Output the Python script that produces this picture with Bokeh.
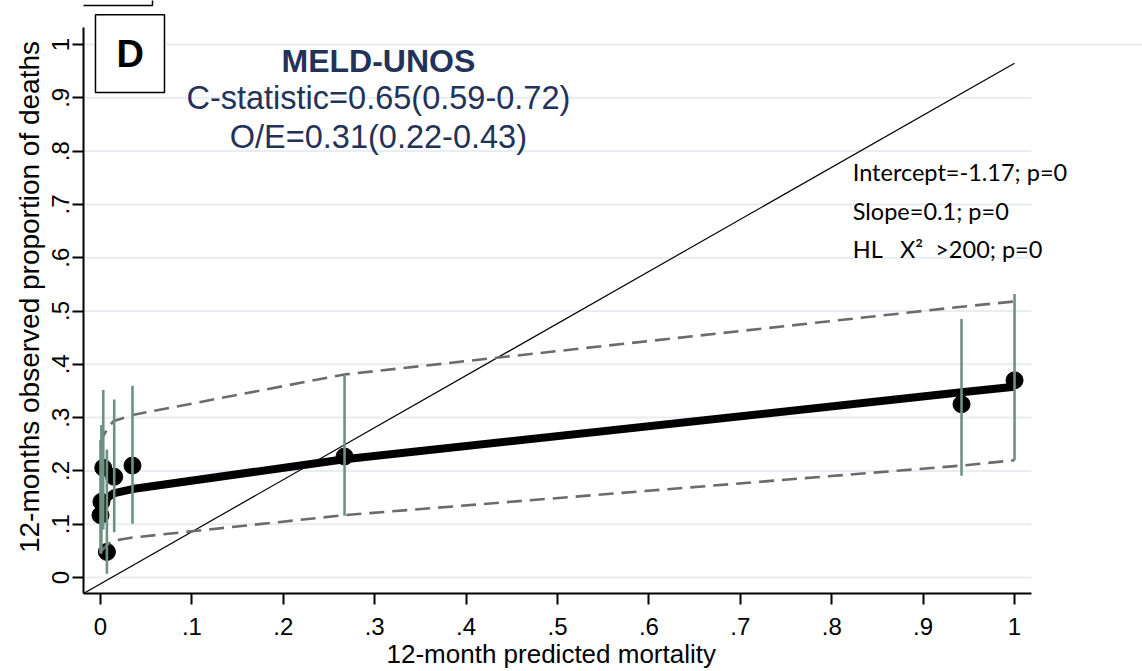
from bokeh.plotting import figure
from bokeh.models import Range1d, FixedTicker, Label, BoxAnnotation, Title
from bokeh.embed import file_html
from bokeh.resources import INLINE

# Risk groups: mean predicted 12-month mortality vs observed proportion of deaths
pred = [0.0, 0.001, 0.003, 0.007, 0.015, 0.035, 0.267, 0.942, 1.0]
obs = [0.117, 0.142, 0.206, 0.048, 0.189, 0.210, 0.227, 0.325, 0.370]
obs_lo = [0.045, 0.050, 0.090, 0.007, 0.085, 0.101, 0.116, 0.191, 0.220]
obs_hi = [0.258, 0.286, 0.352, 0.240, 0.334, 0.360, 0.378, 0.485, 0.532]

# Calibration fit with its confidence band
fit_x = [0.0, 0.001, 0.002, 0.008, 0.014, 0.035, 0.267, 0.942, 1.0]
fit_y = [0.125, 0.130, 0.135, 0.150, 0.158, 0.166, 0.222, 0.3475, 0.358]
fit_lo = [0.045, 0.048, 0.052, 0.062, 0.069, 0.075, 0.117, 0.210, 0.220]
fit_hi = [0.250, 0.257, 0.262, 0.281, 0.293, 0.305, 0.381, 0.508, 0.518]

# Reference line of perfect agreement
ref_x = [-0.0186, 1.0]
ref_y = [-0.030, 0.965]

ticks = [0.0, 0.1, 0.2, 0.3, 0.4, 0.5, 0.6, 0.7, 0.8, 0.9, 1.0]
tick_labels = ["0", ".1", ".2", ".3", ".4", ".5", ".6", ".7", ".8", ".9", "1"]

title_lines = ["MELD-UNOS", "C-statistic=0.65(0.59-0.72)", "O/E=0.31(0.22-0.43)"]
stat_lines = ["Intercept=-1.17; p=0", "Slope=0.1; p=0",
              "HL\u00a0\u00a0\u00a0X\u00b2\u00a0\u00a0>200; p=0"]

NAVY = "#233259"
GRID = "#e6eef1"
BAR = "#6e9182"
SANS = "Liberation Sans"

# plot region limits (axes are drawn only over these)
X_LO, X_HI = -0.0186, 1.0186
Y_LO, Y_HI = -0.030, 1.0325

p = figure(width=1142, height=671,
           x_range=Range1d(X_LO, 1.140), y_range=Range1d(Y_LO, 1.0826),
           output_backend="svg", toolbar_location=None,
           min_border_left=83, min_border_right=0,
           min_border_top=0, min_border_bottom=78)
p.outline_line_color = None
p.background_fill_color = "white"
p.border_fill_color = "white"
p.xgrid.grid_line_color = None
p.ygrid.grid_line_color = None

for ax in (p.xaxis[0], p.yaxis[0]):
    ax.ticker = FixedTicker(ticks=ticks)
    ax.major_label_overrides = dict(zip(ticks, tick_labels))
    ax.axis_line_width = 2
    ax.axis_line_color = "black"
    ax.major_tick_line_width = 2
    ax.major_tick_line_color = "black"
    ax.major_tick_out = 11
    ax.major_tick_in = 0
    ax.minor_tick_line_color = None
    ax.major_label_text_font = SANS
    ax.major_label_text_font_size = "24px"
    ax.major_label_text_color = "black"

p.xaxis.bounds = (X_LO, X_HI)
p.yaxis.bounds = (Y_LO, Y_HI)
p.xaxis.major_label_standoff = 13
p.yaxis.major_label_orientation = "vertical"
p.yaxis.major_label_standoff = 3
p.yaxis.axis_label = "12-months observed proportion of deaths"
p.yaxis.axis_label_standoff = 5
p.yaxis.axis_label_text_font = SANS
p.yaxis.axis_label_text_font_size = "28px"
p.yaxis.axis_label_text_font_style = "normal"
p.yaxis.axis_label_text_color = "black"

p.add_layout(Title(text="12-month predicted mortality", align="left", offset=303,
                   standoff=-2, text_font=SANS, text_font_size="26px",
                   text_font_style="normal", text_color="black"), "below")

# horizontal grid; the top rule runs across to the edge
grid_left = [X_LO] * len(ticks)
grid_right = [X_HI] * (len(ticks) - 1) + [1.140]
p.segment(x0=grid_left, y0=ticks, x1=grid_right, y1=ticks,
          line_color=GRID, line_width=2)

p.line(ref_x, ref_y, line_color="black", line_width=1.2)
p.scatter(pred, obs, size=17, fill_color="black", line_color="black")
p.line(fit_x, fit_y, line_color="black", line_width=8, line_join="round", line_cap="butt")
p.line(fit_x, fit_hi, line_color="#6b6b6b", line_width=2.6, line_dash="15 8")
p.line(fit_x, fit_lo, line_color="#6b6b6b", line_width=2.6, line_dash="15 8")
p.segment(x0=pred, y0=obs_lo, x1=pred, y1=obs_hi, line_color=BAR, line_width=2.6)

# panel letter
p.add_layout(BoxAnnotation(left=-0.0055, right=0.070, bottom=0.910, top=1.056,
                           fill_color="white", fill_alpha=1,
                           line_color="black", line_alpha=1, line_width=1.5))
p.add_layout(Label(x=0.0324, y=0.983, text="D", text_align="center",
                   text_baseline="middle", text_font=SANS,
                   text_font_size="38px", text_font_style="bold",
                   text_color="black"))

# frame of the neighbouring panel
p.add_layout(BoxAnnotation(left=-0.2, right=0.0569, bottom=1.0732, top=1.2,
                           fill_alpha=0, line_color="black", line_alpha=1,
                           line_width=1.5))

title_y = [0.969, 0.899, 0.827]
for i, (txt, ty) in enumerate(zip(title_lines, title_y)):
    p.add_layout(Label(x=0.304, y=ty, text=txt, text_align="center",
                       text_baseline="middle", text_font=SANS,
                       text_font_size="32px" if i == 0 else "32.5px",
                       text_font_style="bold" if i == 0 else "normal",
                       text_color=NAVY))

stat_y = [0.760, 0.688, 0.616]
for txt, ty in zip(stat_lines, stat_y):
    p.add_layout(Label(x=0.823, y=ty, text=txt, text_align="left",
                       text_baseline="middle", text_font="Lato",
                       text_font_size="23.5px", text_color="black"))

open("out.html", "w").write(file_html(p, INLINE))
